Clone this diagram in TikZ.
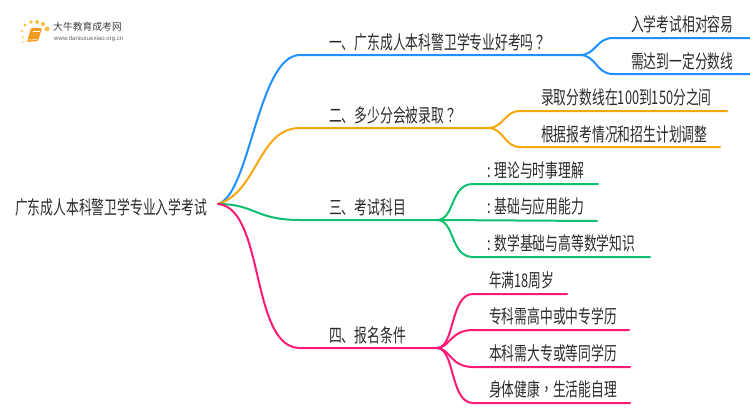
\documentclass[tikz,border=0pt]{standalone}
\usepackage{fontspec}
\setmainfont{Noto Sans CJK SC}[FakeStretch=0.68]
\newfontfamily\tcfont{Noto Sans CJK TC}[FakeStretch=0.68]
\newfontfamily\logofont{Noto Sans CJK SC}
\newfontfamily\urlfont{Liberation Sans}
\definecolor{cblue}{HTML}{1E90FF}
\definecolor{corange}{HTML}{F7A70A}
\definecolor{cgreen}{HTML}{10C070}
\definecolor{cpink}{HTML}{FF1A75}
\definecolor{ctext}{HTML}{2B2B2B}
\definecolor{cbook}{HTML}{F59A1E}
\definecolor{cdot}{HTML}{F8C23C}
\tikzset{
  x=1pt,y=-1pt,
  lbl/.style={anchor=base west,inner sep=0pt,text=ctext,font=\fontsize{18.8pt}{18pt}\selectfont},
  wire/.style={line width=2pt,line cap=round},
}
\begin{document}
\begin{tikzpicture}
\useasboundingbox[fill=white] (0,0) rectangle (750,410);
% coordinates
\coordinate (r) at (218,204);
\foreach \n/\x/\y in {a/300/55,ae/580/55,a1/613/38,a1e/750/38,a2/613/74,a2e/750/74,
  b/300/128,be/488/128,b1/520/111,b1e/727/111,b2/520/147,b2e/720/147,
  c/300/220,ce/437/220,c1/473/184,c1e/598/184,c2e/597/221,c3/473/257,c3e/650/257,
  d/300/348,de/437/348,d1/473/294,d1e/567/294,d2/473/330,d2e/629/330,d3/473/367,d3e/630/367,d4/473/403,d4e/630/403}
  {\coordinate (\n) at (\x,\y);}
% branches
\draw[wire,cblue] (r) .. controls (250,195) and (258,55) .. (a) -- (ae);
\draw[wire,cblue] (ae) .. controls (596,55) and (596,38) .. (a1) -- (a1e);
\draw[wire,cblue] (ae) .. controls (596,55) and (596,74) .. (a2) -- (a2e);
\draw[wire,corange] (r) .. controls (258,192) and (258,128) .. (b) -- (be);
\draw[wire,corange] (be) .. controls (504,128) and (504,111) .. (b1) -- (b1e);
\draw[wire,corange] (be) .. controls (504,128) and (504,147) .. (b2) -- (b2e);
\draw[wire,cgreen] (r) .. controls (255,204) and (255,220) .. (c) -- (ce);
\draw[wire,cgreen] (ce) .. controls (455,220) and (450,184) .. (c1) -- (c1e);
\draw[wire,cgreen] (ce) -- (c2e);
\draw[wire,cgreen] (ce) .. controls (455,220) and (450,257) .. (c3) -- (c3e);
\draw[wire,cpink] (r) .. controls (265,208) and (250,348) .. (d) -- (de);
\draw[wire,cpink] (de) .. controls (455,348) and (450,294) .. (d1) -- (d1e);
\draw[wire,cpink] (de) .. controls (450,348) and (450,330) .. (d2) -- (d2e);
\draw[wire,cpink] (de) .. controls (450,348) and (450,367) .. (d3) -- (d3e);
\draw[wire,cpink] (de) .. controls (455,348) and (450,403) .. (d4) -- (d4e);
% labels
\node[lbl] (root) at (15,214) {广东成人本科警卫学专业入学考试};
\node[lbl] (ta) at (329,49) {一、广东成人本科警卫学专业好考吗{\tcfont ？}};
\node[lbl] (ta1) at (631,31) {入学考试相对容易};
\node[lbl] (ta2) at (631,68) {需达到一定分数线};
\node[lbl] (tb) at (329,122) {二、多少分会被录取{\tcfont ？}};
\node[lbl] (tb1) at (541,104) {录取分数线在100到150分之间};
\node[lbl] (tb2) at (541,141) {根据报考情况和招生计划调整};
\node[lbl] (tc) at (329,214) {三、考试科目};
\node[lbl] (tc1) at (487,177) {: 理论与时事理解};
\node[lbl] (tc2) at (487,213) {: 基础与应用能力};
\node[lbl] (tc3) at (487,250) {: 数学基础与高等数学知识};
\node[lbl] (td) at (329,342) {四、报名条件};
\node[lbl] (td1) at (489,287) {年满18周岁};
\node[lbl] (td2) at (489,323) {专科需高中或中专学历};
\node[lbl] (td3) at (489,360) {本科需大专或等同学历};
\node[lbl] (td4) at (489,396) {身体健康{\tcfont ，}生活能自理};
% logo
\foreach \x/\y/\s in {22/31/1.2,23/37/1,23/42/.8,25/25/1.6,31/22/1.9,37/22/2,43/24/2.1,47/29/2.4}
  {\fill[cdot] (\x,\y) circle (\s);}
\fill[cbook,rounded corners=1pt] (31,28) -- (42,28) -- (38,41) -- (27,42) -- cycle;
\draw[white,line width=.5pt] (33,31) -- (40,31);
\draw[white,line width=.5pt] (28,40) -- (37,39.5);
\node[anchor=west,inner sep=0pt,text=black!75,font=\logofont\fontsize{9.8pt}{10pt}\selectfont] (logoa) at (53,27) {大牛教育成考网};
\shade[left color=white,middle color=black!15,right color=white] (50,33) rectangle (133,33.6);
\node[anchor=west,inner sep=0pt,text=black!60,font=\urlfont\fontsize{6.1pt}{6pt}\selectfont] (logob) at (54,38.5) {www.daniuxuexiao.org.cn};
\end{tikzpicture}
\end{document}
